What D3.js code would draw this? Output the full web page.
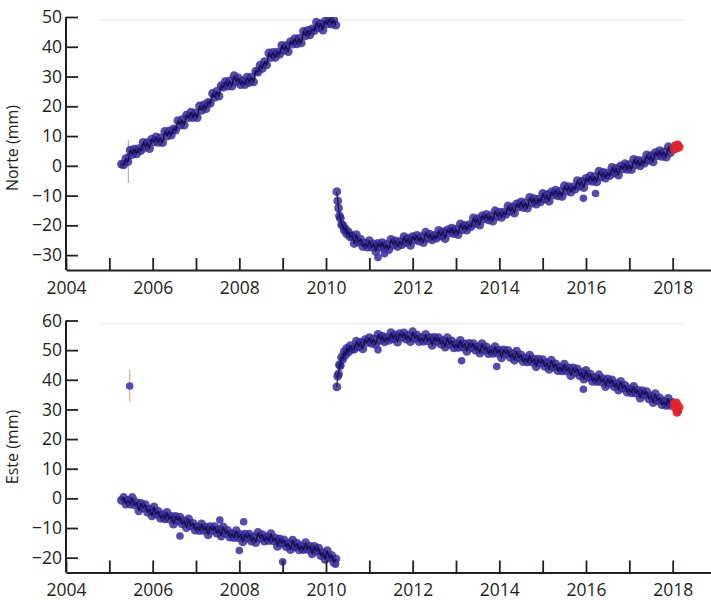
<!DOCTYPE html>
<html>
<head>
<meta charset="utf-8">
<script src="https://cdn.jsdelivr.net/npm/d3@7"></script>
<style>
  html, body { margin: 0; padding: 0; background: #ffffff; }
  svg { display: block; }
  text { font-family: "Open Sans", "Noto Sans", sans-serif; fill: #231f20; }
</style>
</head>
<body>
<svg id="chart" width="711" height="600"></svg>
<script>
// ---------------- DATA ----------------
// Segment A epochs (before the 2010 earthquake), decimal years
const datesA = [2005.28,2005.33,2005.38,2005.43,2005.48,2005.53,2005.58,2005.63,2005.68,2005.73,
2005.78,2005.83,2005.88,2005.93,2005.98,2006.03,2006.08,2006.13,2006.18,2006.23,
2006.28,2006.33,2006.38,2006.43,2006.48,2006.53,2006.58,2006.63,2006.68,2006.73,
2006.78,2006.83,2006.88,2006.93,2006.98,2007.03,2007.08,2007.13,2007.18,2007.23,
2007.28,2007.33,2007.38,2007.43,2007.48,2007.53,2007.58,2007.63,2007.68,2007.73,
2007.78,2007.83,2007.88,2007.93,2007.98,2008.03,2008.08,2008.13,2008.18,2008.23,
2008.28,2008.33,2008.38,2008.43,2008.48,2008.53,2008.58,2008.63,2008.68,2008.73,
2008.78,2008.83,2008.88,2008.93,2008.98,2009.03,2009.08,2009.13,2009.18,2009.23,
2009.28,2009.33,2009.38,2009.43,2009.48,2009.53,2009.58,2009.63,2009.68,2009.73,
2009.78,2009.83,2009.88,2009.93,2009.98,2010.03,2010.08,2010.13,2010.18,2010.23];

const norteA = [0.6,0.3,2.4,1.4,5.3,3.8,5.6,4.0,5.8,5.1,
7.9,6.2,7.8,5.8,9.0,8.0,9.7,7.9,9.4,7.8,
11.6,10.0,11.7,10.3,12.4,12.0,15.2,13.7,15.5,13.7,
17.0,16.2,18.0,16.2,17.8,16.2,20.1,18.6,20.5,19.1,
21.3,21.0,24.3,23.0,25.0,23.4,26.9,26.4,28.4,26.8,
28.5,26.8,30.3,28.3,29.5,27.3,28.5,27.3,29.8,28.0,
29.8,28.2,31.8,31.5,33.8,32.7,35.0,33.9,37.9,36.4,
38.1,36.4,38.2,37.5,40.5,38.8,40.4,38.4,41.7,40.9,
42.7,41.0,42.8,41.3,45.2,43.7,45.5,44.0,46.0,45.4,
48.3,46.4,47.8,45.6,48.6,47.7,49.4,47.6,49.1,47.3];

const esteA = [-0.7,0.3,-1.9,-0.7,-1.9,0.3,-2.2,-1.4,-4.2,-1.7,
-3.2,-2.1,-4.6,-3.6,-5.9,-2.9,-5.3,-4.4,-6.7,-5.6,
-6.9,-4.7,-7.0,-6.1,-8.7,-6.1,-7.5,-6.3,-8.6,-7.6,
-9.9,-6.9,-9.3,-8.4,-10.7,-9.6,-10.9,-8.6,-10.8,-9.7,
-12.3,-9.5,-10.8,-9.5,-11.7,-10.5,-12.7,-9.6,-11.8,-10.8,
-13.1,-11.9,-13.2,-10.9,-13.2,-12.2,-14.7,-12.1,-13.4,-12.1,
-14.4,-13.0,-14.9,-11.5,-13.4,-12.2,-14.4,-13.0,-14.2,-11.9,
-14.3,-13.4,-16.2,-13.7,-15.1,-14.0,-16.3,-15.2,-17.3,-14.1,
-16.4,-15.2,-17.4,-16.1,-17.3,-14.9,-17.2,-16.2,-18.7,-16.2,
-17.8,-16.8,-19.3,-18.3,-20.6,-17.6,-20.1,-19.2,-21.6,-20.4];

// Segment B epochs (after the 2010 earthquake)
const datesB = [2010.25,2010.27,2010.29,2010.31,2010.33,2010.36,2010.39,2010.42,2010.45,2010.48,2010.52,2010.56,2010.60,
2010.65,2010.70,2010.75,2010.80,2010.85,2010.90,2010.95,2011.00,2011.05,2011.10,
2011.15,2011.20,2011.25,2011.30,2011.35,2011.40,2011.45,2011.50,2011.55,2011.60,
2011.65,2011.70,2011.75,2011.80,2011.85,2011.90,2011.95,2012.00,2012.05,2012.10,
2012.15,2012.20,2012.25,2012.30,2012.35,2012.40,2012.45,2012.50,2012.55,2012.60,
2012.65,2012.70,2012.75,2012.80,2012.85,2012.90,2012.95,2013.00,2013.05,2013.10,
2013.15,2013.20,2013.25,2013.30,2013.35,2013.40,2013.45,2013.50,2013.55,2013.60,
2013.65,2013.70,2013.75,2013.80,2013.85,2013.90,2013.95,2014.00,2014.05,2014.10,
2014.15,2014.20,2014.25,2014.30,2014.35,2014.40,2014.45,2014.50,2014.55,2014.60,
2014.65,2014.70,2014.75,2014.80,2014.85,2014.90,2014.95,2015.00,2015.05,2015.10,
2015.15,2015.20,2015.25,2015.30,2015.35,2015.40,2015.45,2015.50,2015.55,2015.60,
2015.65,2015.70,2015.75,2015.80,2015.85,2015.90,2015.95,2016.00,2016.05,2016.10,
2016.15,2016.20,2016.25,2016.30,2016.35,2016.40,2016.45,2016.50,2016.55,2016.60,
2016.65,2016.70,2016.75,2016.80,2016.85,2016.90,2016.95,2017.00,2017.05,2017.10,
2017.15,2017.20,2017.25,2017.30,2017.35,2017.40,2017.45,2017.50,2017.55,2017.60,
2017.65,2017.70,2017.75,2017.80,2017.85,2017.90,2017.95,2018.00];

const norteB = [-8.7,-11.8,-14.2,-16.8,-17.6,-19.8,-20.0,-21.6,-21.2,-22.9,-22.3,-23.9,-23.5,
-26.1,-23.1,-25.6,-24.7,-27.1,-26.0,-27.3,-25.1,-27.3,-26.2,
-28.8,-26.1,-27.2,-25.8,-27.8,-26.4,-28.2,-24.7,-26.6,-25.2,
-27.1,-25.5,-26.5,-23.8,-25.8,-24.4,-26.7,-23.8,-24.9,-23.4,
-25.3,-23.9,-25.8,-22.3,-24.3,-23.0,-24.9,-23.4,-24.3,-21.7,
-23.6,-22.2,-24.5,-21.5,-22.5,-20.9,-22.8,-21.3,-23.1,-19.5,
-21.4,-20.0,-21.6,-19.8,-20.4,-17.5,-19.3,-17.8,-19.9,-16.8,
-17.8,-16.3,-18.2,-16.8,-18.6,-15.1,-17.0,-15.6,-17.3,-15.6,
-16.3,-13.5,-15.3,-13.8,-15.9,-12.8,-13.8,-12.1,-14.0,-12.4,
-14.2,-10.6,-12.5,-11.0,-12.9,-11.2,-12.1,-9.3,-11.2,-9.7,
-11.9,-8.8,-9.8,-8.2,-10.1,-8.6,-10.3,-6.7,-8.5,-7.0,
-8.8,-7.1,-7.8,-5.0,-6.8,-5.2,-7.3,-4.2,-5.1,-3.4,
-5.2,-3.6,-5.4,-1.8,-3.7,-2.2,-4.1,-2.4,-3.3,-0.5,
-2.4,-0.9,-3.1,0.0,-1.0,0.7,-1.2,0.4,-1.3,2.2,
0.4,1.8,0.0,1.7,0.9,3.7,1.9,3.4,1.3,4.4,
3.4,5.1,3.2,4.7,2.9,6.4,4.4,5.8];

const esteB = [37.6,41.2,42.0,45.0,44.8,47.6,47.0,49.5,48.4,50.6,49.4,51.5,50.3,
50.3,53.0,51.2,52.6,50.4,53.5,52.6,54.2,52.3,53.7,
51.9,55.3,53.4,54.7,52.8,54.3,53.3,55.9,53.8,55.1,
52.7,55.6,54.4,55.8,53.7,54.9,52.9,56.2,54.0,55.1,
52.9,54.2,53.0,55.3,53.1,54.2,51.6,54.3,53.0,54.2,
52.0,53.2,51.0,54.2,52.0,53.1,50.8,52.1,50.9,53.3,
51.0,52.1,49.6,52.3,50.9,52.2,50.0,51.2,49.0,52.2,
50.0,51.1,48.8,50.1,48.9,51.2,49.0,50.0,47.4,50.1,
48.7,49.9,47.6,48.8,46.6,49.7,47.4,48.4,46.1,47.3,
46.0,48.3,46.0,47.0,44.4,47.0,45.6,46.8,44.5,45.7,
43.5,46.6,44.3,45.4,43.1,44.3,43.0,45.3,43.0,44.0,
41.4,44.0,42.5,43.7,41.4,42.4,40.2,43.2,40.9,41.9,
39.5,40.7,39.4,41.7,39.3,40.3,37.7,40.3,38.8,40.0,
37.7,38.7,36.5,39.5,37.2,38.1,35.8,36.9,35.6,37.8,
35.5,36.4,33.8,36.3,34.9,36.0,33.6,34.6,32.3,35.3,
33.0,33.9,31.6,32.7,31.4,33.7,31.4,32.4];

// Latest epochs (highlighted in red)
const datesRed = [2018.03,2018.06,2018.09,2018.10,2018.12,2018.15];
const norteRed = [5.6,6.8,5.9,6.4,7.0,6.3];
const esteRed  = [31.8,30.5,32.2,29.0,29.5,30.8];

// Isolated points away from the main band
const norteOutDates = [2005.44,2011.20,2011.35,2015.94,2016.22];
const norteOutVals  = [3.0,-30.8,-29.5,-10.9,-9.3];
const esteOutDates  = [2005.47,2006.63,2007.55,2008.00,2008.10,2009.00,2010.22,2011.20,2013.13,2013.94,2015.94];
const esteOutVals   = [37.9,-12.7,-7.3,-17.6,-7.9,-21.4,-22.2,50.1,46.4,44.5,36.8];

// Error bars (date, low, high)
const norteErrDate = [2005.44], norteErrLow = [-5.8], norteErrHigh = [8.6];
const esteErrDate  = [2005.47], esteErrLow  = [32.6], esteErrHigh  = [43.4];

// Axis ticks
const xTicks = [2004,2005,2006,2007,2008,2009,2010,2011,2012,2013,2014,2015,2016,2017,2018];
const xLabels = [2004,2006,2008,2010,2012,2014,2016,2018];
const norteTicks = [-30,-20,-10,0,10,20,30,40,50];
const esteTicks = [-20,-10,0,10,20,30,40,50,60];
const norteTitle = "Norte (mm)";
const esteTitle = "Este (mm)";

// ---------------- DRAWING ----------------
const svg = d3.select("#chart");
const ink = "#231f20";
const blue = "#2f2396";
const red = "#e3232b";

const x = d3.scaleLinear().domain([2004, 2019]).range([66, 716]);

const panels = [
  { id: "n", domain: [-35, 50], range: [270, 17], ticks: norteTicks, title: norteTitle,
    titleY: 148, labelPad: 12,
    A: norteA, B: norteB, R: norteRed, oD: norteOutDates, oV: norteOutVals,
    eD: norteErrDate, eL: norteErrLow, eH: norteErrHigh, errColor: "#b9b1a8" },
  { id: "e", domain: [-25, 60], range: [572.5, 320.5], ticks: esteTicks, title: esteTitle,
    titleY: 447, labelPad: 11,
    A: esteA, B: esteB, R: esteRed, oD: esteOutDates, oV: esteOutVals,
    eD: esteErrDate, eL: esteErrLow, eH: esteErrHigh, errColor: "#d9ad86" }
];

panels.forEach(p => {
  const y = d3.scaleLinear().domain(p.domain).range(p.range);
  const g = svg.append("g");

  // clip to plot area
  const clipId = "clip-" + p.id;
  svg.append("clipPath").attr("id", clipId)
    .append("rect")
    .attr("x", 66).attr("y", p.range[1])
    .attr("width", 711 - 66).attr("height", p.range[0] - p.range[1]);

  // very faint frame line at top of the plotting window (scan artefact)
  g.append("line")
    .attr("x1", x(2004.75)).attr("x2", x(2018.3))
    .attr("y1", p.range[1] + 3).attr("y2", p.range[1] + 3)
    .attr("stroke", "#f1f3f5").attr("stroke-width", 2);

  const plot = g.append("g").attr("clip-path", `url(#${clipId})`);

  // error bars
  plot.selectAll(".err").data(p.eD).enter().append("line")
    .attr("x1", d => x(d)).attr("x2", d => x(d))
    .attr("y1", (d, i) => y(p.eL[i])).attr("y2", (d, i) => y(p.eH[i]))
    .attr("stroke", p.errColor).attr("stroke-width", 1.2);

  const segs = [
    { dates: datesA, vals: p.A },
    { dates: datesB, vals: p.B }
  ];

  // points
  segs.forEach(s => {
    plot.append("g").selectAll("circle").data(s.dates).enter().append("circle")
      .attr("cx", d => x(d))
      .attr("cy", (d, i) => y(s.vals[i]))
      .attr("r", 4.4)
      .attr("fill", blue).attr("fill-opacity", 0.8);
  });
  plot.append("g").selectAll("circle").data(p.oD).enter().append("circle")
    .attr("cx", d => x(d)).attr("cy", (d, i) => y(p.oV[i]))
    .attr("r", 3.8).attr("fill", "#4436aa").attr("fill-opacity", 0.9);

  // dark central trace through the observations
  segs.forEach(s => {
    const line = d3.line().x(d => x(d[0])).y(d => y(d[1]));
    plot.append("path")
      .datum(s.dates.map((d, i) => [d, s.vals[i]]))
      .attr("d", line)
      .attr("fill", "none").attr("stroke", "#0d0a2a")
      .attr("stroke-width", 1.2).attr("stroke-opacity", 0.85)
      .attr("stroke-linejoin", "round");
  });

  // latest epochs in red
  plot.append("g").selectAll("circle").data(datesRed).enter().append("circle")
    .attr("cx", d => x(d)).attr("cy", (d, i) => y(p.R[i]))
    .attr("r", 4.4).attr("fill", red).attr("fill-opacity", 0.92);

  // x axis
  const xAxis = d3.axisBottom(x)
    .tickValues(xTicks)
    .tickSizeInner(-12).tickSizeOuter(0).tickPadding(p.labelPad)
    .tickFormat(d => xLabels.includes(d) ? String(d) : "");
  const gx = g.append("g").attr("transform", `translate(0,${p.range[0]})`).call(xAxis);

  // y axis
  const yAxis = d3.axisLeft(y)
    .tickValues(p.ticks)
    .tickSizeInner(-12).tickSizeOuter(0).tickPadding(4);
  const gy = g.append("g").attr("transform", `translate(66,0)`).call(yAxis);

  [gx, gy].forEach(a => {
    a.select(".domain").attr("stroke", ink).attr("stroke-width", 2);
    a.selectAll(".tick line").attr("stroke", ink).attr("stroke-width", 1.8);
    a.selectAll(".tick text")
      .style("font-family", '"Open Sans", "Noto Sans", sans-serif')
      .style("font-size", "17.5px").attr("fill", ink);
  });
  // y axis line stops at the last tick
  gy.select(".domain").attr("d", `M0,${p.range[0]}V${y(p.ticks[p.ticks.length - 1])}`);

  // axis title
  g.append("text")
    .attr("transform", `translate(17.5,${p.titleY}) rotate(-90)`)
    .attr("text-anchor", "middle")
    .style("font-size", "16px")
    .text(p.title);
});
</script>
</body>
</html>
